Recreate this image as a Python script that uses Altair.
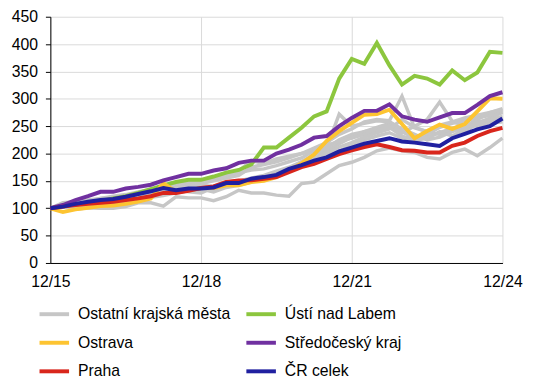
import altair as alt
import pandas as pd

# Quarterly periods 12/15 ... 12/24
periods = []
for yr in range(15, 25):
    for m in (3, 6, 9, 12):
        lab = f"{m}/{yr}"
        if (yr == 15 and m < 12):
            continue
        periods.append(lab)
tick_labels = ["12/15", "12/18", "12/21", "12/24"]

usti = [100, 103, 107, 110, 113, 118, 122, 128, 135, 142,
        148, 152, 152, 158, 165, 170, 180, 211, 211, 229,
        247, 268, 277, 337, 373, 364, 402, 361, 326, 342,
        337, 326, 352, 334, 348, 386, 384]
stredocesky = [100, 106, 115, 122, 130, 130, 136, 139, 143, 151,
               157, 163, 163, 169, 173, 183, 187, 187, 200, 207,
               216, 229, 232, 250, 265, 278, 278, 290, 268, 262,
               258, 266, 274, 274, 289, 305, 312]
ostrava = [100, 93, 98, 101, 104, 105, 108, 112, 118, 146,
           130, 133, 137, 137, 142, 142, 148, 150, 157, 169,
           182, 198, 223, 241, 256, 271, 272, 280, 254, 228,
           241, 253, 245, 254, 277, 301, 300]
praha = [100, 103, 106, 108, 110, 112, 115, 118, 122, 128,
         128, 132, 137, 140, 148, 151, 151, 154, 157, 166,
         175, 181, 190, 199, 206, 212, 217, 212, 206, 205,
         202, 202, 214, 220, 232, 241, 247]
cr_celek = [100, 103, 108, 112, 115, 117, 121, 126, 131, 137,
            133, 136, 136, 138, 146, 146, 154, 157, 161, 172,
            179, 187, 193, 204, 211, 218, 223, 228, 222, 220,
            217, 214, 228, 236, 244, 250, 264]

grey_series = [
    [100, 102, 98, 101, 100, 100, 103, 110, 110, 104, 121, 119, 119, 114, 121, 133, 128, 128, 124, 122,
     145, 148, 163, 178, 184, 193, 205, 210, 205, 202, 193, 190, 202, 208, 196, 211, 228],
    [100, 108, 112, 110, 115, 118, 120, 122, 125, 130, 135, 140, 145, 150, 155, 160, 175, 180, 185, 192,
     200, 210, 220, 235, 245, 258, 262, 260, 305, 247, 240, 235, 245, 240, 255, 265, 275],
    [100, 105, 103, 108, 110, 112, 115, 120, 124, 128, 130, 138, 142, 140, 148, 150, 155, 160, 168, 175,
     185, 195, 205, 218, 230, 240, 248, 255, 238, 250, 262, 294, 259, 250, 262, 275, 282],
    [100, 110, 112, 115, 118, 120, 122, 125, 128, 132, 138, 145, 150, 155, 160, 168, 187, 182, 190, 195,
     200, 205, 210, 272, 250, 255, 260, 258, 245, 235, 225, 230, 240, 250, 258, 262, 268],
    [100, 104, 106, 108, 112, 115, 118, 122, 126, 130, 140, 142, 140, 135, 145, 150, 152, 158, 165, 172,
     185, 198, 210, 225, 235, 240, 245, 248, 232, 225, 228, 240, 232, 245, 255, 260, 262],
    [100, 107, 110, 112, 118, 122, 125, 130, 135, 140, 145, 148, 150, 152, 160, 165, 170, 172, 178, 185,
     192, 205, 215, 222, 228, 235, 242, 250, 240, 228, 235, 248, 255, 260, 265, 270, 278],
    [100, 103, 105, 107, 108, 110, 113, 118, 120, 123, 128, 132, 135, 130, 138, 142, 148, 152, 160, 168,
     178, 188, 195, 205, 215, 225, 232, 238, 228, 222, 230, 238, 246, 252, 250, 255, 258],
    [100, 106, 108, 111, 114, 116, 120, 124, 128, 131, 134, 130, 128, 138, 140, 146, 150, 157, 162, 170,
     180, 190, 200, 212, 220, 230, 238, 245, 262, 248, 240, 252, 258, 265, 270, 275, 280],
]

# legend is filled column by column
names = ["Ostatní krajská města", "Ostrava", "Praha",
         "Ústí nad Labem", "Středočeský kraj", "ČR celek"]
colors = ["#c6c6c6", "#fdc431", "#d9261c", "#8cc63e", "#7030a0", "#2020a0"]

rows = []
for k, s in enumerate(grey_series):
    for p, v in zip(periods, s):
        rows.append({"period": p, "value": v, "group": names[0], "line": f"g{k}"})
for nm, s in [("Ústí nad Labem", usti), ("Ostrava", ostrava), ("Středočeský kraj", stredocesky),
              ("Praha", praha), ("ČR celek", cr_celek)]:
    for p, v in zip(periods, s):
        rows.append({"period": p, "value": v, "group": nm, "line": nm})
df = pd.DataFrame(rows)

FONT = "Liberation Sans"

x_enc = alt.X("period:N", sort=periods,
              scale=alt.Scale(type="point", padding=0, domain=periods),
              axis=alt.Axis(values=tick_labels, labelAngle=0, grid=True, gridColor="#d9d9d9",
                            domainColor="black", ticks=False, labelPadding=11, labelFlush=False,
                            labelFontSize=16, labelFont=FONT, labelColor="black", title=None))
y_enc = alt.Y("value:Q", scale=alt.Scale(domain=[0, 450], nice=False),
              axis=alt.Axis(values=list(range(0, 451, 50)), grid=True, gridColor="#d9d9d9",
                            domainColor="black", tickColor="black", tickSize=5, labelPadding=8,
                            labelFontSize=16, labelFont=FONT, labelColor="black", title=None))
legend = alt.Legend(orient="none", legendX=-13, legendY=285, columns=2, symbolType="stroke",
                    symbolStrokeWidth=4, symbolSize=900, labelFontSize=16, labelFont=FONT,
                    labelColor="black", rowPadding=4, columnPadding=8, labelOffset=7,
                    title=None, padding=0, labelLimit=300)
c_enc = alt.Color("group:N", scale=alt.Scale(domain=names, range=colors), legend=legend)

layers = []
layers.append(alt.Chart(df[df.group == names[0]]).mark_line(strokeWidth=3.5).encode(
    x=x_enc, y=y_enc, color=c_enc, detail="line:N"))
for nm in ["Ústí nad Labem", "Ostrava", "Středočeský kraj", "Praha", "ČR celek"]:
    layers.append(alt.Chart(df[df.group == nm]).mark_line(strokeWidth=4).encode(
        x=x_enc, y=y_enc, color=c_enc))

chart = alt.layer(*layers).properties(
    width=459, height=250,
    autosize=alt.AutoSizeParams(type="none"),
    padding={"left": 43, "top": 6, "right": 30, "bottom": 120},
).configure_view(stroke=None)

chart.save("out.html", embed_options={"renderer": "svg", "actions": False})
